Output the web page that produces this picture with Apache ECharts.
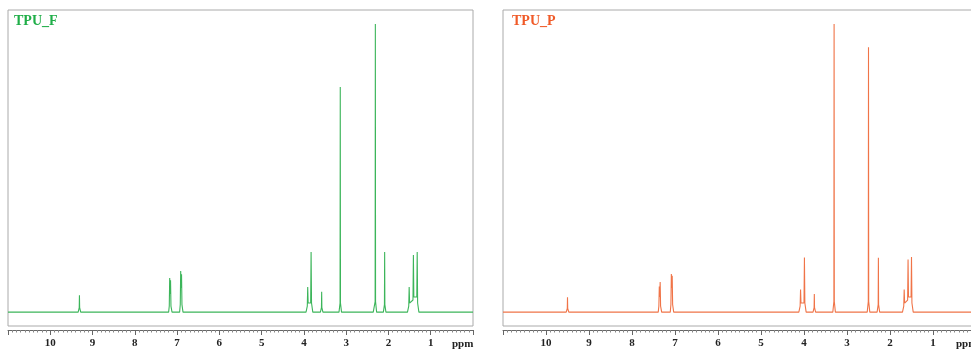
<!DOCTYPE html>
<html>
<head>
<meta charset="utf-8">
<script src="https://cdn.jsdelivr.net/npm/echarts@6/dist/echarts.min.js"></script>
<style>
html,body{margin:0;padding:0;background:#fff;}
#chart{width:971px;height:351px;}
</style>
</head>
<body>
<div id="chart"></div>
<script>
// TPU_F spectrum: chemical shift (ppm) and intensity
var ppmF = [11.0,
  9.34, 9.315, 9.31, 9.305, 9.28,
  7.20, 7.185, 7.175, 7.165, 7.155, 7.145, 7.12,
  6.94, 6.925, 6.915, 6.905, 6.895, 6.885, 6.86,
  3.95, 3.92, 3.91, 3.90, 3.84, 3.83, 3.82, 3.79,
  3.61, 3.585, 3.58, 3.575, 3.55,
  3.17, 3.145, 3.14, 3.135, 3.11,
  2.42, 2.39, 2.36, 2.34, 2.315, 2.31, 2.305, 2.28,
  2.12, 2.095, 2.09, 2.085, 2.06,
  1.55, 1.52, 1.51, 1.50, 1.42, 1.41, 1.40, 1.33, 1.32, 1.31, 1.28,
  0.0];
var intF = [0,
  0, 1.5, 5.6, 1.5, 0,
  0, 2, 11.3, 6, 10.5, 2, 0,
  0, 2.5, 13.6, 8, 12.5, 2.5, 0,
  0, 2, 8.3, 3, 3, 19.9, 3, 0,
  0, 1.5, 6.7, 1.5, 0,
  0, 3, 74.5, 3, 0,
  0, 0.6, 0, 0, 3.5, 95.4, 3.5, 0,
  0, 2.5, 19.9, 2.5, 0,
  0, 2, 8.3, 3, 4, 18.9, 5, 5, 19.9, 3, 0,
  0];

// TPU_P spectrum
var ppmP = [11.0,
  9.53, 9.505, 9.50, 9.495, 9.47,
  7.39, 7.375, 7.365, 7.355, 7.345, 7.335, 7.31,
  7.11, 7.095, 7.085, 7.075, 7.065, 7.055, 7.03,
  4.12, 4.09, 4.08, 4.07, 4.00, 3.99, 3.98, 3.95,
  3.79, 3.765, 3.76, 3.755, 3.73,
  3.33, 3.305, 3.30, 3.295, 3.27,
  2.66, 2.62, 2.58,
  2.53, 2.505, 2.50, 2.495, 2.47,
  2.30, 2.275, 2.27, 2.265, 2.24,
  1.71, 1.68, 1.67, 1.66, 1.59, 1.58, 1.57, 1.51, 1.50, 1.49, 1.46,
  0.0];
var intP = [0,
  0, 1.2, 4.9, 1.2, 0,
  0, 2, 8.5, 5, 10, 2, 0,
  0, 2.5, 12.6, 8, 12, 2.5, 0,
  0, 2, 7.5, 3, 3, 18.1, 3, 0,
  0, 1.5, 6, 1.5, 0,
  0, 3.5, 95.4, 3.5, 0,
  0, 0.5, 0,
  0, 3.5, 87.7, 3.5, 0,
  0, 2.5, 18, 2.5, 0,
  0, 2, 7.5, 3, 4, 17.4, 5, 5, 18.2, 3, 0,
  0];

var panelTitles = ['TPU_F', 'TPU_P'];
var axisUnit = 'ppm';

function pairs(xs, ys) {
  var out = [];
  for (var i = 0; i < xs.length; i++) out.push([xs[i], ys[i]]);
  return out;
}

var serifFont = '"Liberation Serif", "Times New Roman", serif';

function xAxisFor(gridIndex) {
  return {
    gridIndex: gridIndex,
    type: 'value',
    min: 0, max: 11, interval: 1,
    inverse: true,
    position: 'bottom',
    offset: 4,
    splitLine: {show: false},
    axisLine: {show: true, onZero: false, lineStyle: {color: '#666', width: 1}},
    axisTick: {show: true, inside: false, length: 5, lineStyle: {color: '#666'}},
    minorTick: {show: true, splitNumber: 10, length: 2.5, lineStyle: {color: '#888'}},
    axisLabel: {
      margin: 8,
      color: '#222',
      fontFamily: serifFont,
      fontWeight: 'bold',
      fontSize: 11,
      formatter: function (v) { return (v === 0 || v === 11) ? '' : String(v); }
    }
  };
}
function yAxisFor(gridIndex) {
  return {
    gridIndex: gridIndex,
    type: 'value',
    min: -4.6, max: 100,
    show: false,
    splitLine: {show: false}
  };
}

var chart = echarts.init(document.getElementById('chart'), null, {renderer: 'canvas'});
chart.setOption({
  backgroundColor: '#fff',
  animation: false,
  grid: [
    {left: 8, top: 10, width: 465, height: 316, show: true, borderColor: '#aaa', borderWidth: 1, backgroundColor: 'transparent', containLabel: false, outerBoundsMode: 'none'},
    {left: 503, top: 10, width: 473, height: 316, show: true, borderColor: '#aaa', borderWidth: 1, backgroundColor: 'transparent', containLabel: false, outerBoundsMode: 'none'}
  ],
  xAxis: [xAxisFor(0), xAxisFor(1)],
  yAxis: [yAxisFor(0), yAxisFor(1)],
  series: [
    {
      type: 'line', xAxisIndex: 0, yAxisIndex: 0,
      data: pairs(ppmF, intF),
      showSymbol: false, symbol: 'none',
      lineStyle: {color: '#3cb55a', width: 1.1},
      clip: true
    },
    {
      type: 'line', xAxisIndex: 1, yAxisIndex: 1,
      data: pairs(ppmP, intP),
      showSymbol: false, symbol: 'none',
      lineStyle: {color: '#f07448', width: 1.1},
      clip: true
    }
  ],
  graphic: [
    {type: 'text', left: 14, top: 14, style: {text: panelTitles[0], fill: '#1fae48', font: 'bold 14px ' + serifFont}},
    {type: 'text', left: 512, top: 14, style: {text: panelTitles[1], fill: '#f05a28', font: 'bold 14px ' + serifFont}},
    {type: 'text', left: 452, top: 339, style: {text: axisUnit, fill: '#222', font: 'bold 11px ' + serifFont}},
    {type: 'text', x: 956, y: 339, style: {text: axisUnit, fill: '#222', font: 'bold 11px ' + serifFont}}
  ]
});
</script>
</body>
</html>
